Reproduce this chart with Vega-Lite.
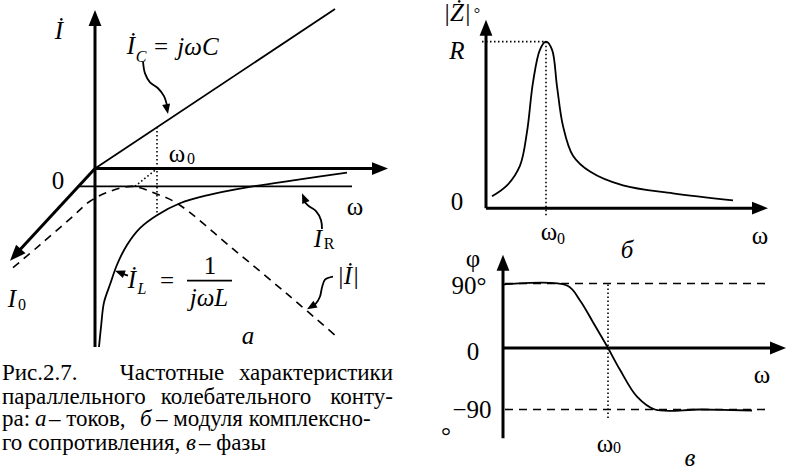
{
  "$schema": "https://vega.github.io/schema/vega-lite/v6.json",
  "width": 787,
  "height": 471,
  "autosize": {"type": "fit", "contains": "padding"},
  "padding": 0,
  "background": "white",
  "config": {"view": {"stroke": null}, "text": {"font": "Liberation Serif, Times New Roman, serif"}},
  "encoding": {
    "x": {"field": "x", "type": "quantitative", "scale": {"domain": [0, 787], "nice": false, "zero": false}, "axis": null},
    "y": {"field": "y", "type": "quantitative", "scale": {"domain": [0, 471], "reverse": true, "nice": false, "zero": false}, "axis": null}
  },
  "datasets": {
    "paths": [
      {"id": "ay", "k": "axis", "i": 0, "x": 95, "y": 350}, {"id": "ay", "k": "axis", "i": 1, "x": 95, "y": 24},
      {"id": "ax", "k": "axis", "i": 0, "x": 95, "y": 170}, {"id": "ax", "k": "axis", "i": 1, "x": 376, "y": 170},
      {"id": "a0", "k": "axis", "i": 0, "x": 95, "y": 170}, {"id": "a0", "k": "axis", "i": 1, "x": 19, "y": 253},
      {"id": "ic", "k": "thin", "i": 0, "x": 95, "y": 170}, {"id": "ic", "k": "thin", "i": 1, "x": 335, "y": 9},
      {"id": "ir", "k": "thin", "i": 0, "x": 77, "y": 188}, {"id": "ir", "k": "thin", "i": 1, "x": 352, "y": 188},
      {"id": "il", "k": "thin", "i": 0, "x": 99, "y": 350}, {"id": "il", "k": "thin", "i": 1, "x": 101, "y": 330},
      {"id": "il", "k": "thin", "i": 2, "x": 104, "y": 305}, {"id": "il", "k": "thin", "i": 3, "x": 110, "y": 287},
      {"id": "il", "k": "thin", "i": 4, "x": 117, "y": 267}, {"id": "il", "k": "thin", "i": 5, "x": 127, "y": 247},
      {"id": "il", "k": "thin", "i": 6, "x": 140, "y": 230}, {"id": "il", "k": "thin", "i": 7, "x": 157, "y": 217},
      {"id": "il", "k": "thin", "i": 8, "x": 180, "y": 205}, {"id": "il", "k": "thin", "i": 9, "x": 207, "y": 197},
      {"id": "il", "k": "thin", "i": 10, "x": 247, "y": 189}, {"id": "il", "k": "thin", "i": 11, "x": 300, "y": 181},
      {"id": "il", "k": "thin", "i": 12, "x": 347, "y": 174},
      {"id": "iabs", "k": "dash", "i": 0, "x": 13, "y": 270}, {"id": "iabs", "k": "dash", "i": 1, "x": 40, "y": 247},
      {"id": "iabs", "k": "dash", "i": 2, "x": 72, "y": 219}, {"id": "iabs", "k": "dash", "i": 3, "x": 90, "y": 203},
      {"id": "iabs", "k": "dash", "i": 4, "x": 110, "y": 193}, {"id": "iabs", "k": "dash", "i": 5, "x": 133, "y": 188},
      {"id": "iabs", "k": "dash", "i": 6, "x": 155, "y": 195}, {"id": "iabs", "k": "dash", "i": 7, "x": 177, "y": 205},
      {"id": "iabs", "k": "dash", "i": 8, "x": 233, "y": 251}, {"id": "iabs", "k": "dash", "i": 9, "x": 290, "y": 299},
      {"id": "iabs", "k": "dash", "i": 10, "x": 335, "y": 338},
      {"id": "bar", "k": "thin", "i": 0, "x": 187, "y": 283}, {"id": "bar", "k": "thin", "i": 1, "x": 232, "y": 283},
      {"id": "d1", "k": "dot", "i": 0, "x": 157, "y": 128}, {"id": "d1", "k": "dot", "i": 1, "x": 157, "y": 217},
      {"id": "d2", "k": "dot", "i": 0, "x": 135, "y": 188}, {"id": "d2", "k": "dot", "i": 1, "x": 157, "y": 170},
      {"id": "cC", "k": "thin", "i": 0, "x": 143, "y": 62}, {"id": "cC", "k": "thin", "i": 1, "x": 145, "y": 74},
      {"id": "cC", "k": "thin", "i": 2, "x": 150, "y": 83}, {"id": "cC", "k": "thin", "i": 3, "x": 158, "y": 89},
      {"id": "cC", "k": "thin", "i": 4, "x": 164, "y": 97}, {"id": "cC", "k": "thin", "i": 5, "x": 167, "y": 106},
      {"id": "cR", "k": "thin", "i": 0, "x": 322, "y": 231}, {"id": "cR", "k": "thin", "i": 1, "x": 321, "y": 222},
      {"id": "cR", "k": "thin", "i": 2, "x": 316, "y": 213}, {"id": "cR", "k": "thin", "i": 3, "x": 309, "y": 208},
      {"id": "cR", "k": "thin", "i": 4, "x": 305, "y": 204},
      {"id": "cL", "k": "thin", "i": 0, "x": 128, "y": 278}, {"id": "cL", "k": "thin", "i": 1, "x": 122, "y": 276},
      {"id": "cA", "k": "thin", "i": 0, "x": 333, "y": 279}, {"id": "cA", "k": "thin", "i": 1, "x": 325, "y": 282},
      {"id": "cA", "k": "thin", "i": 2, "x": 322, "y": 290}, {"id": "cA", "k": "thin", "i": 3, "x": 320, "y": 299},
      {"id": "cA", "k": "thin", "i": 4, "x": 316, "y": 306}, {"id": "cA", "k": "thin", "i": 5, "x": 312, "y": 309},
      {"id": "by", "k": "axis", "i": 0, "x": 486, "y": 210}, {"id": "by", "k": "axis", "i": 1, "x": 486, "y": 34},
      {"id": "bx", "k": "axis", "i": 0, "x": 486, "y": 210}, {"id": "bx", "k": "axis", "i": 1, "x": 756, "y": 210},
      {"id": "bz", "k": "thin", "i": 0, "x": 492, "y": 198}, {"id": "bz", "k": "thin", "i": 1, "x": 507, "y": 187},
      {"id": "bz", "k": "thin", "i": 2, "x": 520, "y": 167}, {"id": "bz", "k": "thin", "i": 3, "x": 527, "y": 133},
      {"id": "bz", "k": "thin", "i": 4, "x": 533, "y": 83}, {"id": "bz", "k": "thin", "i": 5, "x": 540, "y": 50},
      {"id": "bz", "k": "thin", "i": 6, "x": 546, "y": 42}, {"id": "bz", "k": "thin", "i": 7, "x": 552, "y": 50},
      {"id": "bz", "k": "thin", "i": 8, "x": 557, "y": 87}, {"id": "bz", "k": "thin", "i": 9, "x": 563, "y": 127},
      {"id": "bz", "k": "thin", "i": 10, "x": 573, "y": 157}, {"id": "bz", "k": "thin", "i": 11, "x": 590, "y": 173},
      {"id": "bz", "k": "thin", "i": 12, "x": 623, "y": 187}, {"id": "bz", "k": "thin", "i": 13, "x": 673, "y": 195},
      {"id": "bz", "k": "thin", "i": 14, "x": 733, "y": 202},
      {"id": "bdh", "k": "dot", "i": 0, "x": 482, "y": 42}, {"id": "bdh", "k": "dot", "i": 1, "x": 546, "y": 42},
      {"id": "bdv", "k": "dot", "i": 0, "x": 546, "y": 42}, {"id": "bdv", "k": "dot", "i": 1, "x": 546, "y": 218},
      {"id": "cy", "k": "axis", "i": 0, "x": 503, "y": 442}, {"id": "cy", "k": "axis", "i": 1, "x": 503, "y": 271},
      {"id": "cx", "k": "axis", "i": 0, "x": 503, "y": 351}, {"id": "cx", "k": "axis", "i": 1, "x": 774, "y": 351},
      {"id": "c90", "k": "dash", "i": 0, "x": 505, "y": 286}, {"id": "c90", "k": "dash", "i": 1, "x": 768, "y": 286},
      {"id": "cm90", "k": "dash", "i": 0, "x": 505, "y": 413}, {"id": "cm90", "k": "dash", "i": 1, "x": 767, "y": 413},
      {"id": "cdot", "k": "dot", "i": 0, "x": 608, "y": 287}, {"id": "cdot", "k": "dot", "i": 1, "x": 608, "y": 423},
      {"id": "phi", "k": "thin", "i": 0, "x": 503, "y": 287}, {"id": "phi", "k": "thin", "i": 1, "x": 567, "y": 288},
      {"id": "phi", "k": "thin", "i": 2, "x": 580, "y": 303}, {"id": "phi", "k": "thin", "i": 3, "x": 593, "y": 325},
      {"id": "phi", "k": "thin", "i": 4, "x": 608, "y": 351}, {"id": "phi", "k": "thin", "i": 5, "x": 620, "y": 373},
      {"id": "phi", "k": "thin", "i": 6, "x": 637, "y": 400}, {"id": "phi", "k": "thin", "i": 7, "x": 655, "y": 413},
      {"id": "phi", "k": "thin", "i": 8, "x": 700, "y": 413}, {"id": "phi", "k": "thin", "i": 9, "x": 752, "y": 414}
    ],
    "heads": [
      {"k": "big", "x": 95, "y": 10, "a": 0},
      {"k": "big", "x": 388, "y": 170, "a": 90},
      {"k": "big", "x": 10, "y": 263, "a": 222.5},
      {"k": "big", "x": 486, "y": 20, "a": 0},
      {"k": "big", "x": 768, "y": 210, "a": 90},
      {"k": "big", "x": 503, "y": 257, "a": 0},
      {"k": "big", "x": 786, "y": 351, "a": 90},
      {"k": "small", "x": 168, "y": 115, "a": 169},
      {"k": "small", "x": 302, "y": 195, "a": 337},
      {"k": "small", "x": 115, "y": 273, "a": 291},
      {"k": "small", "x": 307, "y": 312, "a": 238}
    ],
    "labels": [
      {"x": 58, "y": 183, "t": "0", "r": "b"},
      {"x": 177, "y": 155, "t": "ω", "r": "b"}, {"x": 191, "y": 160, "t": "0", "r": "s"},
      {"x": 355, "y": 209, "t": "ω", "r": "b"},
      {"x": 329, "y": 246, "t": "R", "r": "s"},
      {"x": 22, "y": 308, "t": "0", "r": "s"},
      {"x": 161, "y": 47, "t": "=", "r": "b"},
      {"x": 167, "y": 283, "t": "=", "r": "b"},
      {"x": 210, "y": 268, "t": "1", "r": "b"},
      {"x": 477, "y": 14, "t": "°", "r": "s"},
      {"x": 457, "y": 204, "t": "0", "r": "b"},
      {"x": 549, "y": 234, "t": "ω", "r": "b"}, {"x": 561, "y": 241, "t": "0", "r": "s"},
      {"x": 760, "y": 238, "t": "ω", "r": "b"},
      {"x": 473, "y": 261, "t": "φ", "r": "b"},
      {"x": 469, "y": 288, "t": "90°", "r": "b"},
      {"x": 473, "y": 355, "t": "0", "r": "b"},
      {"x": 472, "y": 414, "t": "−90", "r": "b"},
      {"x": 446, "y": 440, "t": "°", "r": "b"},
      {"x": 762, "y": 378, "t": "ω", "r": "b"},
      {"x": 605, "y": 448, "t": "ω", "r": "b"}, {"x": 617, "y": 452, "t": "0", "r": "s"}
    ],
    "labelsIt": [
      {"x": 59, "y": 31, "t": "İ", "r": "b"},
      {"x": 131, "y": 46, "t": "İ", "r": "b"}, {"x": 141, "y": 57, "t": "C", "r": "s"},
      {"x": 198, "y": 47, "t": "jωC", "r": "b"},
      {"x": 318, "y": 241, "t": "I", "r": "b"},
      {"x": 12, "y": 302, "t": "I", "r": "b"},
      {"x": 132, "y": 282, "t": "İ", "r": "b"}, {"x": 142, "y": 291, "t": "L", "r": "s"},
      {"x": 209, "y": 301, "t": "jωL", "r": "b"},
      {"x": 348, "y": 278, "t": "|İ|", "r": "b"},
      {"x": 248, "y": 339, "t": "а", "r": "b"},
      {"x": 457, "y": 13, "t": "|Ż|", "r": "b"},
      {"x": 457, "y": 51, "t": "R", "r": "b"},
      {"x": 627, "y": 252, "t": "б", "r": "b"},
      {"x": 690, "y": 462, "t": "в", "r": "b"}
    ],
    "captionStart": [
      {"x": 2, "y": 383, "t": "Рис.2.7."},
      {"x": 2, "y": 407, "t": "параллельного"},
      {"x": 2, "y": 430, "t": "ра:"},
      {"x": 49, "y": 430, "t": "– токов,"},
      {"x": 156, "y": 430, "t": "– модуля комплексно-"},
      {"x": 2, "y": 454, "t": "го сопротивления,"},
      {"x": 199, "y": 454, "t": "– фазы"}
    ],
    "captionMid": [
      {"x": 172, "y": 383, "t": "Частотные"},
      {"x": 236, "y": 407, "t": "колебательного"}
    ],
    "captionEnd": [
      {"x": 393, "y": 383, "t": "характеристики"},
      {"x": 393, "y": 407, "t": "конту-"}
    ],
    "captionIt": [
      {"x": 35, "y": 430, "t": "а"},
      {"x": 140, "y": 430, "t": "б"},
      {"x": 186, "y": 454, "t": "в"}
    ]
  },
  "layer": [
    {
      "data": {"name": "paths"},
      "transform": [{"filter": "datum.k === 'axis'"}],
      "mark": {"type": "line", "color": "black", "strokeWidth": 3, "strokeCap": "butt"},
      "encoding": {"detail": {"field": "id", "type": "nominal"}, "order": {"field": "i", "type": "quantitative"}}
    },
    {
      "data": {"name": "paths"},
      "transform": [{"filter": "datum.k === 'thin'"}],
      "mark": {"type": "line", "color": "black", "strokeWidth": 1.8, "interpolate": "catmull-rom", "strokeCap": "butt"},
      "encoding": {"detail": {"field": "id", "type": "nominal"}, "order": {"field": "i", "type": "quantitative"}}
    },
    {
      "data": {"name": "paths"},
      "transform": [{"filter": "datum.k === 'dash'"}],
      "mark": {"type": "line", "color": "black", "strokeWidth": 1.6, "strokeDash": [8, 6], "interpolate": "catmull-rom", "strokeCap": "butt"},
      "encoding": {"detail": {"field": "id", "type": "nominal"}, "order": {"field": "i", "type": "quantitative"}}
    },
    {
      "data": {"name": "paths"},
      "transform": [{"filter": "datum.k === 'dot'"}],
      "mark": {"type": "line", "color": "black", "strokeWidth": 1.6, "strokeDash": [1.5, 2.5], "strokeCap": "butt"},
      "encoding": {"detail": {"field": "id", "type": "nominal"}, "order": {"field": "i", "type": "quantitative"}}
    },
    {
      "data": {"name": "heads"},
      "transform": [{"filter": "datum.k === 'big'"}],
      "mark": {"type": "point", "shape": "M0,0L0.8,2L-0.8,2Z", "filled": true, "color": "black", "opacity": 1, "size": 256, "strokeWidth": 0},
      "encoding": {"angle": {"field": "a", "type": "quantitative", "scale": null}}
    },
    {
      "data": {"name": "heads"},
      "transform": [{"filter": "datum.k === 'small'"}],
      "mark": {"type": "point", "shape": "M0,0L0.8,2L-0.8,2Z", "filled": true, "color": "black", "opacity": 1, "size": 100, "strokeWidth": 0},
      "encoding": {"angle": {"field": "a", "type": "quantitative", "scale": null}}
    },
    {
      "data": {"name": "labels"},
      "transform": [{"filter": "datum.r === 'b'"}],
      "mark": {"type": "text", "fontSize": 25, "align": "center", "baseline": "middle", "color": "black"},
      "encoding": {"text": {"field": "t"}}
    },
    {
      "data": {"name": "labels"},
      "transform": [{"filter": "datum.r === 's'"}],
      "mark": {"type": "text", "fontSize": 16, "align": "center", "baseline": "middle", "color": "black"},
      "encoding": {"text": {"field": "t"}}
    },
    {
      "data": {"name": "labelsIt"},
      "transform": [{"filter": "datum.r === 'b'"}],
      "mark": {"type": "text", "fontStyle": "italic", "fontSize": 25, "align": "center", "baseline": "middle", "color": "black"},
      "encoding": {"text": {"field": "t"}}
    },
    {
      "data": {"name": "labelsIt"},
      "transform": [{"filter": "datum.r === 's'"}],
      "mark": {"type": "text", "fontStyle": "italic", "fontSize": 16, "align": "center", "baseline": "middle", "color": "black"},
      "encoding": {"text": {"field": "t"}}
    },
    {
      "data": {"name": "captionStart"},
      "mark": {"type": "text", "fontSize": 23, "align": "left", "baseline": "alphabetic", "color": "black"},
      "encoding": {"text": {"field": "t"}}
    },
    {
      "data": {"name": "captionMid"},
      "mark": {"type": "text", "fontSize": 23, "align": "center", "baseline": "alphabetic", "color": "black"},
      "encoding": {"text": {"field": "t"}}
    },
    {
      "data": {"name": "captionEnd"},
      "mark": {"type": "text", "fontSize": 23, "align": "right", "baseline": "alphabetic", "color": "black"},
      "encoding": {"text": {"field": "t"}}
    },
    {
      "data": {"name": "captionIt"},
      "mark": {"type": "text", "fontStyle": "italic", "fontSize": 23, "align": "left", "baseline": "alphabetic", "color": "black"},
      "encoding": {"text": {"field": "t"}}
    }
  ]
}
